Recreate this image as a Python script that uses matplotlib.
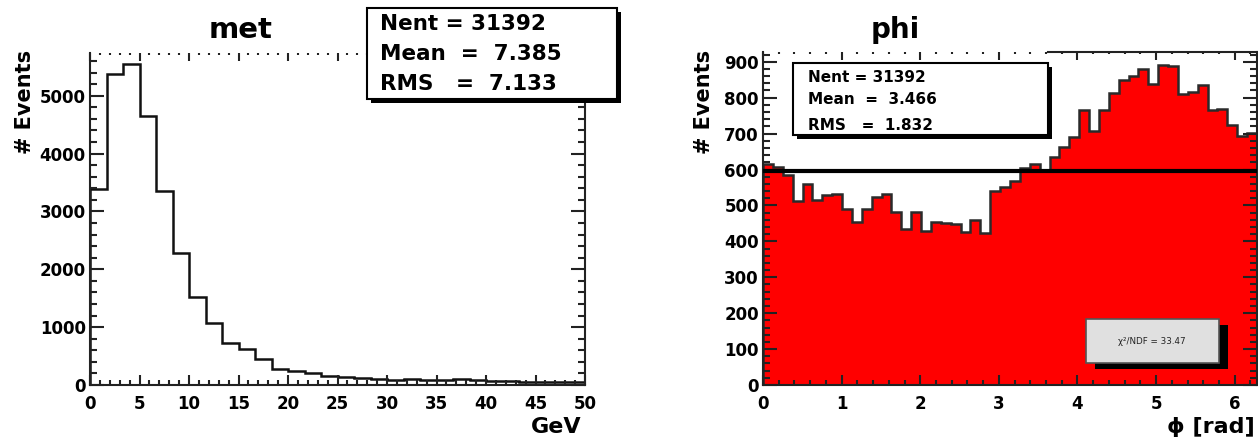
import numpy as np
import matplotlib.pyplot as plt
from matplotlib.patches import Rectangle
from matplotlib.ticker import MultipleLocator

# --- данные: гистограмма met (30 бинов, 0..50 GeV) ---
met_edges = np.linspace(0, 50, 31)
met_counts = [3385, 5381, 5548, 4642, 3362, 2278, 1528, 1067, 725, 630,
              450, 277, 235, 200, 160, 140, 115, 100, 95, 110,
              95, 90, 100, 85, 75, 70, 60, 55, 50, 45]
met_stats = ["Nent = 31392", "Mean  =  7.385", "RMS   =  7.133"]

# --- данные: гистограмма phi (50 бинов, 0..2pi) ---
phi_edges = np.linspace(0, 2 * np.pi, 51)
phi_counts = [614, 607, 586, 513, 560, 515, 530, 532, 490, 455,
              490, 523, 531, 483, 435, 481, 429, 453, 452, 448,
              425, 460, 422, 540, 552, 568, 603, 615, 596, 634,
              664, 690, 766, 707, 766, 814, 850, 861, 879, 838,
              891, 887, 810, 817, 836, 766, 769, 724, 694, 701]
phi_stats = ["Nent = 31392", "Mean  =  3.466", "RMS   =  1.832"]
fit_const = 595
chi2_ndf = "33.47"

W, H = 1258, 442
plt.rcParams['font.family'] = ['DejaVu Sans']
plt.rcParams['font.weight'] = 'bold'

fig = plt.figure(figsize=(W / 100, H / 100), dpi=100)


def fx(px):
    return px / W


def fy(py):
    return 1 - py / H


def box(x0, y0, x1, y1, face='white', edge='black', lw=1.5, shadow=(4, 4)):
    # прямоугольник в пикселях с тенью, как у ROOT
    sx, sy = shadow
    fig.add_artist(Rectangle((fx(x0 + sx), fy(y1 + sy)), (x1 - x0) / W, (y1 - y0) / H,
                             transform=fig.transFigure, facecolor='black',
                             edgecolor='black', lw=0, zorder=5))
    fig.add_artist(Rectangle((fx(x0), fy(y1)), (x1 - x0) / W, (y1 - y0) / H,
                             transform=fig.transFigure, facecolor=face,
                             edgecolor=edge, lw=lw, zorder=6))


def style_axes(ax, xmaj, xmin, ymaj, ymin):
    ax.xaxis.set_major_locator(MultipleLocator(xmaj))
    ax.xaxis.set_minor_locator(MultipleLocator(xmin))
    ax.yaxis.set_major_locator(MultipleLocator(ymaj))
    ax.yaxis.set_minor_locator(MultipleLocator(ymin))
    ax.tick_params(which='both', direction='in', top=False, right=True,
                   color='#222222', width=1.5, labelsize=12)
    ax.tick_params(axis='y', which='major', length=10, pad=3)
    ax.tick_params(axis='y', which='minor', length=5)
    ax.tick_params(axis='x', which='major', length=7, pad=7)
    ax.tick_params(axis='x', which='minor', length=3.5)
    for s in ax.spines.values():
        s.set_linewidth(1.5)
        s.set_color('#222222')
    ax.spines['top'].set_visible(False)
    # верхние засечки: рамки нет, видны только точки и короткие штрихи
    top = ax.secondary_xaxis('top')
    top.xaxis.set_major_locator(MultipleLocator(xmaj))
    top.xaxis.set_minor_locator(MultipleLocator(xmin))
    top.tick_params(which='both', direction='in', labeltop=False,
                    color='#222222', width=1.5)
    top.tick_params(which='major', length=6)
    top.tick_params(which='minor', length=1.5)
    top.spines['top'].set_visible(False)


# ---------------- met ----------------
ax1 = fig.add_axes([fx(90), fy(385), 495 / W, 332.3 / H])
ax1.stairs(met_counts, met_edges, baseline=0, color='#111111', lw=1.8)
ax1.set_xlim(0, 50)
ax1.set_ylim(0, 5745)
style_axes(ax1, 5, 1, 1000, 200)

fig.text(fx(241), fy(30), "met", ha='center', va='center', fontsize=21)
fig.text(fx(25), fy(50), "# Events", rotation=90, ha='center', va='top', fontsize=15)
fig.text(fx(582), fy(437), "GeV", ha='right', va='bottom', fontsize=16)

box(367, 8, 617, 99)
for i, s in enumerate(met_stats):
    fig.text(fx(380), fy(24 + 30 * i), s, ha='left', va='center', fontsize=15.5, zorder=7)

# ---------------- phi ----------------
ax2 = fig.add_axes([fx(763), fy(385), 494 / W, 333.3 / H])
ax2.stairs(phi_counts, phi_edges, baseline=0, fill=True, color='#ff0000')
ax2.stairs(phi_counts, phi_edges, baseline=0, color='#2a2a2a', lw=1.8)
ax2.axhline(fit_const, color='black', lw=3, zorder=3)
ax2.set_xlim(0, 2 * np.pi)
ax2.set_ylim(0, 928)
style_axes(ax2, 1, 0.2, 100, 20)
# верхняя рамка видна только справа от окна статистики
ax2.plot([3.62, 2 * np.pi], [1, 1], transform=ax2.get_xaxis_transform(),
         color='#222222', lw=1.5, clip_on=False)

fig.text(fx(895), fy(30), "phi", ha='center', va='center', fontsize=20)
fig.text(fx(704), fy(50), "# Events", rotation=90, ha='center', va='top', fontsize=15)
fig.text(fx(1255), fy(437), "ϕ [rad]", ha='right', va='bottom', fontsize=16)

box(793, 63, 1048, 135)
for y, s in zip([77, 99, 126], phi_stats):
    fig.text(fx(808), fy(y), s, ha='left', va='center', fontsize=11, zorder=7)

box(1086, 319, 1219, 363, face='#e0e0e0', edge='#555555', lw=1.2, shadow=(9, 6))
fig.text(fx(1152), fy(341), "χ²/NDF = " + chi2_ndf, ha='center', va='center',
         fontsize=6.3, fontweight='normal', color='#222222', zorder=7)

fig.savefig("out.png", dpi=100)
